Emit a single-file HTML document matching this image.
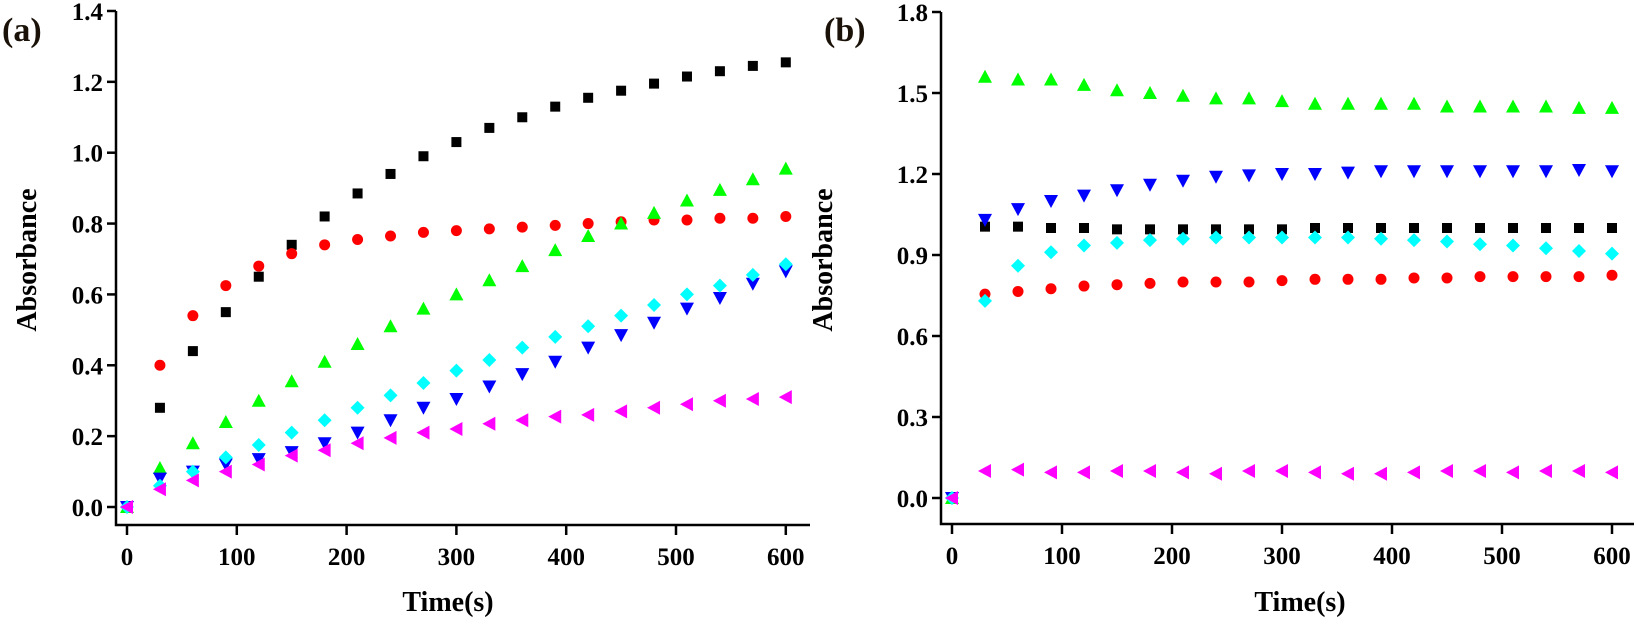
<!DOCTYPE html>
<html><head><meta charset="utf-8"><style>
html,body{margin:0;padding:0;background:#fff;width:1636px;height:624px;overflow:hidden}
svg text{font-family:"Liberation Serif",serif;font-weight:bold;fill:#000}
</style></head><body>
<svg id="s" width="1636" height="624" xmlns="http://www.w3.org/2000/svg"></svg>
<script>
const s=document.getElementById('s');let h='';
const A={x0:127,sx:1.098,y0:507,sy:354.3,axX:116,axY:525,axTop:11,axEnd:810,yt:[0,0.2,0.4,0.6,0.8,1.0,1.2,1.4]};
const B={x0:952,sx:1.100,y0:498,sy:270,axX:941,axY:524,axTop:12,axEnd:1634,yt:[0,0.3,0.6,0.9,1.2,1.5,1.8]};
function axes(P,lab,labx,tx,ty){
 h+=`<path d="M${P.axX} ${P.axTop}V${P.axY}H${P.axEnd}" fill="none" stroke="#000" stroke-width="2.5"/>`;
 P.yt.forEach(v=>{const y=P.y0-v*P.sy;h+=`<line x1="${P.axX-9}" y1="${y}" x2="${P.axX}" y2="${y}" stroke="#000" stroke-width="2.5"/><text x="${P.axX-13}" y="${y+9}" font-size="25" text-anchor="end">${v.toFixed(1)}</text>`;});
 for(let t=0;t<=600;t+=100){const x=P.x0+t*P.sx;h+=`<line x1="${x}" y1="${P.axY}" x2="${x}" y2="${P.axY+10}" stroke="#000" stroke-width="2.5"/><text x="${x}" y="${P.axY+40}" font-size="25" text-anchor="middle">${t}</text>`;}
 h+=`<text x="${labx}" y="41" font-size="34" style="fill:#1a1208">${lab}</text>`;
 h+=`<text x="${tx}" y="611" font-size="28" text-anchor="middle">Time(s)</text>`;
 h+=`<text transform="translate(${ty},260) rotate(-90)" font-size="28" text-anchor="middle">Absorbance</text>`;
}
function mk(type,x,y,c){
 if(type=='sq')return `<rect x="${x-5}" y="${y-5}" width="10" height="10" fill="${c}"/>`;
 if(type=='ci')return `<circle cx="${x}" cy="${y}" r="5.5" fill="${c}"/>`;
 if(type=='up')return `<polygon points="${x},${y-7} ${x+7},${y+6} ${x-7},${y+6}" fill="${c}"/>`;
 if(type=='dn')return `<polygon points="${x-7},${y-6} ${x+7},${y-6} ${x},${y+7}" fill="${c}"/>`;
 if(type=='di')return `<polygon points="${x},${y-7} ${x+7},${y} ${x},${y+7} ${x-7},${y}" fill="${c}"/>`;
 if(type=='lt')return `<polygon points="${x-7},${y} ${x+6},${y-7} ${x+6},${y+7}" fill="${c}"/>`;
}
function series(P,d,type,c){d.forEach((v,i)=>{h+=mk(type,P.x0+i*30*P.sx,P.y0-v*P.sy,c);});}
axes(A,'(a)',2,448,36);axes(B,'(b)',824,1300,832);
const a={
bk:[0,.28,.44,.55,.65,.74,.82,.885,.94,.99,1.03,1.07,1.10,1.13,1.155,1.175,1.195,1.215,1.23,1.245,1.255],
rd:[0,.40,.54,.625,.68,.715,.74,.755,.765,.775,.78,.785,.79,.795,.80,.805,.81,.81,.815,.815,.82],
gr:[0,.11,.18,.24,.30,.355,.41,.46,.51,.56,.60,.64,.68,.725,.765,.80,.83,.865,.895,.925,.955],
bl:[0,.08,.10,.12,.135,.155,.18,.21,.245,.28,.305,.34,.375,.41,.45,.485,.52,.56,.59,.63,.665],
cy:[0,.06,.10,.14,.175,.21,.245,.28,.315,.35,.385,.415,.45,.48,.51,.54,.57,.60,.625,.655,.685],
mg:[0,.05,.075,.10,.12,.145,.16,.18,.195,.21,.22,.235,.245,.255,.26,.27,.28,.29,.30,.305,.31]};
const b={
bk:[0,1.005,1.005,1.0,1.0,.995,.995,.995,.995,.995,.995,1,1,1,1,1,1,1,1,1,1],
rd:[0,.755,.765,.775,.785,.79,.795,.80,.80,.80,.805,.81,.81,.81,.815,.815,.82,.82,.82,.82,.825],
gr:[0,1.56,1.55,1.55,1.53,1.51,1.50,1.49,1.48,1.48,1.47,1.46,1.46,1.46,1.46,1.45,1.45,1.45,1.45,1.445,1.445],
bl:[0,1.03,1.07,1.10,1.12,1.14,1.16,1.175,1.19,1.195,1.20,1.20,1.205,1.21,1.21,1.21,1.21,1.21,1.21,1.215,1.21],
cy:[0,.73,.86,.91,.935,.945,.955,.96,.965,.965,.965,.965,.965,.96,.955,.95,.94,.935,.925,.915,.905],
mg:[0,.10,.105,.095,.095,.1,.1,.095,.09,.1,.1,.095,.09,.09,.095,.1,.1,.095,.1,.1,.095]};
[[A,a],[B,b]].forEach(([P,d])=>{
 series(P,d.bk,'sq','#000');series(P,d.rd,'ci','#f00');series(P,d.gr,'up','#0f0');
 series(P,d.bl,'dn','#00f');series(P,d.cy,'di','#0ff');series(P,d.mg,'lt','#f0f');});
s.innerHTML=h;
</script>
</body></html>
